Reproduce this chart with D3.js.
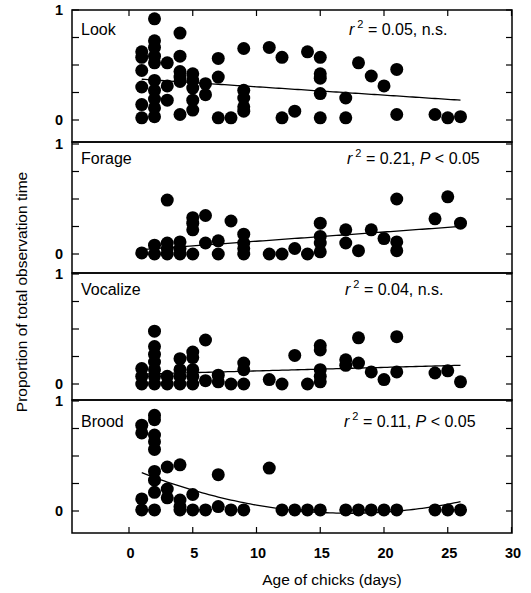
<!DOCTYPE html>
<html><head><meta charset="utf-8">
<script src="https://cdnjs.cloudflare.com/ajax/libs/d3/7.8.5/d3.min.js"></script>
<style>body{margin:0;background:#fff}svg{display:block}text{font-family:"Liberation Sans",Arial,Helvetica,sans-serif;fill:#000}</style>
</head><body><svg id="c" width="531" height="593"></svg>
<script>
// ---- data ----
const panelNames = ["Look","Forage","Vocalize","Brood"];
const statTexts = [
  ["0.05, n.s.", null],
  ["0.21, ", "0.05"],
  ["0.04, n.s.", null],
  ["0.11, ", "0.05"]
];
const xTicks = [0,5,10,15,20,25,30];
const yTicks = [0,0.25,0.5,0.75,1];
const yTickLabels = ["0","1"];

const lookPoints = [
 [1,0.62],[1,0.57],[1,0.45],[1,0.30],[1,0.14],[1,0.02],
 [2,0.92],[2,0.72],[2,0.66],[2,0.58],[2,0.52],[2,0.36],[2,0.27],[2,0.19],[2,0.11],[2,0.03],
 [3,0.52],[3,0.31],[3,0.18],
 [4,0.79],[4,0.58],[4,0.44],[4,0.39],[4,0.35],[4,0.05],
 [5,0.42],[5,0.36],[5,0.29],[5,0.18],[5,0.09],
 [6,0.33],[6,0.23],
 [7,0.56],[7,0.39],[7,0.02],
 [8,0.02],
 [9,0.65],[9,0.27],[9,0.20],[9,0.12],[9,0.08],
 [11,0.66],[12,0.57],[12,0.02],[13,0.08],[14,0.62],
 [15,0.57],[15,0.42],[15,0.38],[15,0.24],[15,0.02],
 [17,0.20],[17,0.02],[18,0.52],[19,0.40],[20,0.31],
 [21,0.46],[21,0.05],[24,0.05],[25,0.02],[26,0.03]
];
const foragePoints = [
 [1,0.01],[2,0.08],[2,0.0],
 [3,0.49],[3,0.10],[3,0.05],[3,0.0],
 [4,0.11],[4,0.05],[4,0.0],
 [5,0.33],[5,0.28],[5,0.22],[5,0.0],
 [6,0.35],[6,0.10],[7,0.12],[7,0.0],[8,0.30],
 [9,0.18],[9,0.10],[9,0.05],[9,0.0],
 [11,0.0],[12,0.0],[13,0.05],[14,0.0],
 [15,0.28],[15,0.16],[15,0.10],[15,0.02],
 [17,0.22],[17,0.10],[18,0.03],[19,0.22],[20,0.14],
 [21,0.50],[21,0.11],[21,0.03],[24,0.32],[25,0.52],[26,0.28]
];
const vocalizePoints = [
 [1,0.14],[1,0.07],[1,0.0],
 [2,0.48],[2,0.34],[2,0.27],[2,0.20],[2,0.13],[2,0.07],[2,0.0],
 [3,0.07],[3,0.0],
 [4,0.23],[4,0.13],[4,0.07],[4,0.0],
 [5,0.29],[5,0.24],[5,0.13],[5,0.07],[5,0.0],
 [6,0.40],[6,0.03],[7,0.08],[7,0.02],[8,0.0],
 [9,0.19],[9,0.13],[9,0.0],
 [11,0.04],[12,0.0],[13,0.26],[14,0.0],
 [15,0.35],[15,0.31],[15,0.13],[15,0.07],[15,0.02],
 [17,0.22],[17,0.17],[18,0.42],[18,0.19],[19,0.11],[20,0.04],
 [21,0.43],[21,0.11],[24,0.10],[25,0.12],[26,0.02]
];
const broodPoints = [
 [1,0.78],[1,0.71],[1,0.11],[1,0.01],
 [2,0.87],[2,0.83],[2,0.69],[2,0.63],[2,0.56],[2,0.36],[2,0.28],[2,0.17],[2,0.01],
 [3,0.40],[3,0.20],[3,0.12],
 [4,0.42],[4,0.10],[4,0.04],[4,0.01],
 [5,0.15],[5,0.01],[6,0.01],[7,0.33],[7,0.04],[8,0.01],[9,0.01],
 [11,0.39],[12,0.01],[13,0.01],[14,0.01],[15,0.01],
 [17,0.01],[18,0.01],[19,0.01],[20,0.01],[21,0.01],
 [24,0.01],[25,0.01],[26,0.01]
];
// fitted curves: coefficients [c0, c1, c2] for y = c0 + c1*x + c2*x^2
const lookFit = [0.378, -0.0076, 0];
const forageFit = [0.032, 0.0084, 0];
const vocalizeFit = [0.087, 0.0032, 0];
const broodFit = [0.395, -0.048, 0.001387];
const fitRange = [1, 26];

const allPoints = [lookPoints, foragePoints, vocalizePoints, broodPoints];
const allFits = [lookFit, forageFit, vocalizeFit, broodFit];

// ---- layout ----
const frameL = 72, frameR = 512;
const panelTop = [10, 142, 273, 400];
const panelBot = [142, 273, 400, 533];
const zeroY = [120, 254, 384, 511];
const unitH = 110;
const statX = [349, 347, 345, 344];
const labelBase = [35, 164, 295, 427];

const svg = d3.select("#c");
const x = d3.scaleLinear().domain([0,30]).range([129, 511.5]);

panelNames.forEach((name, i) => {
  const y = d3.scaleLinear().domain([0,1]).range([zeroY[i], zeroY[i]-unitH]);
  const g = svg.append("g");
  g.append("rect").attr("x", frameL).attr("y", panelTop[i])
    .attr("width", frameR-frameL).attr("height", panelBot[i]-panelTop[i])
    .attr("fill","none").attr("stroke","#000").attr("stroke-width",1.5);
  yTicks.forEach(t => {
    const yy = y(t);
    g.append("line").attr("x1",frameL).attr("x2",frameL+7).attr("y1",yy).attr("y2",yy).attr("stroke","#000").attr("stroke-width",1.2);
    g.append("line").attr("x1",frameR-6).attr("x2",frameR).attr("y1",yy).attr("y2",yy).attr("stroke","#000").attr("stroke-width",1.2);
  });
  yTickLabels.forEach(l => {
    g.append("text").attr("x", 63).attr("y", y(+l)).attr("dy","0.36em")
      .attr("text-anchor","end").attr("font-size",14.5).attr("font-weight","bold").text(l);
  });
  g.append("text").attr("x", 81).attr("y", labelBase[i]).attr("font-size",16).text(name);
  const st = g.append("text").attr("x", statX[i]).attr("y", labelBase[i]).attr("font-size",16);
  st.append("tspan").attr("font-style","italic").text("r");
  st.append("tspan").attr("font-size",11).attr("dx",3).attr("dy",-7).text("2");
  st.append("tspan").attr("dy",7).text(" = " + statTexts[i][0]);
  if (statTexts[i][1]) {
    st.append("tspan").attr("font-style","italic").text("P");
    st.append("tspan").text(" < " + statTexts[i][1]);
  }
  const c = allFits[i];
  const xs = d3.range(fitRange[0], fitRange[1] + 0.001, 0.25);
  g.append("path").datum(xs)
    .attr("d", d3.line().x(d => x(d)).y(d => y(c[0] + c[1]*d + c[2]*d*d)))
    .attr("fill","none").attr("stroke","#000").attr("stroke-width",1.3);
  g.selectAll("circle").data(allPoints[i]).join("circle")
    .attr("cx", d => x(d[0])).attr("cy", d => y(d[1])).attr("r", 6.5).attr("fill","#000");
});

xTicks.forEach(t => {
  svg.append("line").attr("x1",x(t)).attr("x2",x(t)).attr("y1",panelTop[0]).attr("y2",panelTop[0]+6).attr("stroke","#000").attr("stroke-width",1.2);
  svg.append("line").attr("x1",x(t)).attr("x2",x(t)).attr("y1",panelBot[3]-6).attr("y2",panelBot[3]).attr("stroke","#000").attr("stroke-width",1.2);
  svg.append("text").attr("x", x(t)+1.5).attr("y", 558).attr("text-anchor","middle").attr("font-size",14.5).attr("font-weight","bold").text(t);
});

svg.append("text").attr("x", 332).attr("y", 585).attr("text-anchor","middle").attr("font-size",15.5).text("Age of chicks (days)");
svg.append("text").attr("transform","translate(27,292) rotate(-90)").attr("text-anchor","middle").attr("font-size",15.5).text("Proportion of total observation time");
</script></body></html>
